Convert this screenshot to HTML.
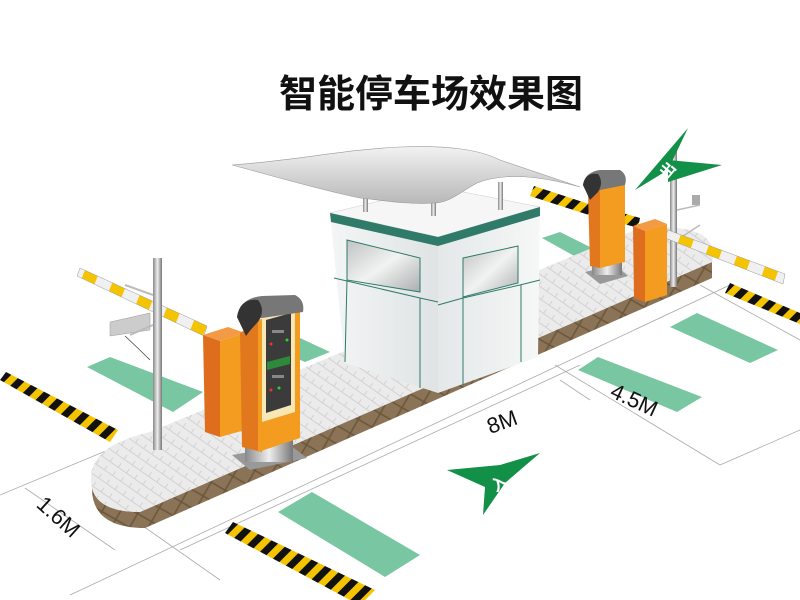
<!DOCTYPE html>
<html><head><meta charset="utf-8"><style>
html,body{margin:0;padding:0;background:#fff;}
svg{display:block;}
</style></head><body>
<svg width="800" height="600" viewBox="0 0 800 600" xmlns="http://www.w3.org/2000/svg">
<defs>
<pattern id="hz" width="14" height="14" patternUnits="userSpaceOnUse" patternTransform="rotate(45)">
<rect width="14" height="14" fill="#f5c400"/><rect width="7" height="14" fill="#111"/>
</pattern>
<pattern id="br" width="16" height="16" patternUnits="userSpaceOnUse" patternTransform="rotate(30)">
<rect width="16" height="16" fill="#8a7356"/><path d="M0 8H16M8 0V16" stroke="#6b563c" stroke-width="1.5"/>
</pattern>
<pattern id="pv" width="10" height="10" patternUnits="userSpaceOnUse" patternTransform="rotate(35)">
<rect width="10" height="10" fill="#ebebeb"/><path d="M0 5H10M5 0V5" stroke="#d2d2d2" stroke-width="1"/>
</pattern>
<linearGradient id="wall1" x1="0" x2="1"><stop offset="0" stop-color="#f4f6f6"/><stop offset="1" stop-color="#dfe3e3"/></linearGradient>
<linearGradient id="wall2" x1="0" x2="1"><stop offset="0" stop-color="#e4e8e8"/><stop offset="1" stop-color="#f6f7f7"/></linearGradient>
<linearGradient id="win" x1="0" y1="0" x2="1" y2="1"><stop offset="0" stop-color="#bfc3c3"/><stop offset=".5" stop-color="#f2f2f2"/><stop offset="1" stop-color="#a9aeae"/></linearGradient>
<linearGradient id="can" x1="0" y1="0" x2="0" y2="1"><stop offset="0" stop-color="#f2f2f2"/><stop offset="1" stop-color="#b8b8b8"/></linearGradient>
<linearGradient id="met" x1="0" x2="1"><stop offset="0" stop-color="#888"/><stop offset=".5" stop-color="#eee"/><stop offset="1" stop-color="#777"/></linearGradient>
<pattern id="boom" width="30" height="10" patternUnits="userSpaceOnUse" patternTransform="rotate(22)">
<rect width="30" height="10" fill="#f0f0f0"/><rect width="14" height="10" fill="#f5c400"/>
</pattern>
<pattern id="boom2" width="30" height="10" patternUnits="userSpaceOnUse" patternTransform="rotate(20)">
<rect width="30" height="10" fill="#f0f0f0"/><rect width="14" height="10" fill="#f5c400"/>
</pattern>
</defs>

<text x="431" y="107" text-anchor="middle" font-family="'Liberation Sans','Noto Sans CJK SC',sans-serif" font-weight="bold" font-size="38" fill="#111">智能停车场效果图</text>

<!-- dimension / road lines -->
<g stroke="#aaa" stroke-width="0.8" fill="none">
<line x1="0" y1="495" x2="120" y2="445"/>
<line x1="70" y1="595" x2="730" y2="285"/>
<line x1="180" y1="550" x2="580" y2="365"/>
<line x1="25" y1="488" x2="115" y2="550"/>
<line x1="120" y1="510" x2="220" y2="580"/>
<line x1="555" y1="365" x2="720" y2="465"/>
<line x1="720" y1="465" x2="800" y2="430"/>
<line x1="560" y1="380" x2="590" y2="400"/>
<line x1="700" y1="285" x2="800" y2="340"/>
</g>

<!-- green stripes -->
<g fill="#79c7a2">
<polygon points="87,367 110,357 203,392 173,412"/>
<polygon points="272,348 300,338 330,352 305,362"/>
<polygon points="542,238 560,232 600,252 585,262"/>
<polygon points="670,327 697,313 778,350 750,363"/>
<polygon points="578,370 598,357 702,397 677,412"/>
<polygon points="278,512 312,492 420,555 385,577"/>
</g>

<!-- hazard strips -->
<polygon points="0,380 6,372 118,430 110,442" fill="url(#hz)"/>
<polygon points="225,533 233,522 375,590 365,600 350,600" fill="url(#hz)"/>
<polygon points="530,196 534,186 595,206 592,216" fill="url(#hz)"/>
<polygon points="725,293 730,283 800,313 800,324" fill="url(#hz)"/>

<!-- island -->
<path d="M92 470 Q86 512 140 512 L712 262 L712 278 L145 528 Q90 528 92 485 Z" fill="url(#br)"/>
<path d="M150 432 L640 228 Q722 222 712 262 L140 512 Q84 512 92 470 Q98 444 150 432 Z" fill="url(#pv)"/>

<polygon points="588,203 640,218 638,228 586,213" fill="url(#hz)"/>

<!-- booth -->
<polygon points="330,213 438,187 540,207 438,237" fill="#f6f6f6" stroke="#ccc" stroke-width="0.5"/>
<polygon points="330,213 438,237 438,393 345,363" fill="url(#wall1)"/>
<polygon points="438,237 540,207 538,357 438,393" fill="url(#wall2)"/>
<polygon points="330,213 438,237 438,246 331,222" fill="#2f7a68"/>
<polygon points="438,237 540,207 540,216 438,246" fill="#2f7a68"/>
<polygon points="347,240 420,258 420,292 347,280" fill="url(#win)" stroke="#2f7a68" stroke-width="1"/>
<polygon points="463,258 518,246 518,283 463,297" fill="url(#win)" stroke="#2f7a68" stroke-width="1"/>
<g stroke="#2f7a68" stroke-width="1" fill="none">
<polyline points="334,278 420,298 438,302"/>
<line x1="347" y1="280" x2="345" y2="362"/>
<line x1="420" y1="298" x2="420" y2="388"/>
<polyline points="438,305 463,298 520,285 540,280"/>
<line x1="463" y1="298" x2="463" y2="385"/>
<line x1="521" y1="285" x2="521" y2="362"/>
<line x1="347" y1="240" x2="347" y2="280"/>
</g>
<g fill="url(#met)">
<rect x="363" y="198" width="5" height="14"/>
<rect x="431" y="198" width="5" height="18"/>
<rect x="498" y="182" width="5" height="28"/>
</g>
<path d="M232 165 C300 160 340 150 400 147 C450 145 480 150 500 160 C530 170 560 180 580 187 C540 176 505 172 477 183 C460 192 450 203 433 203 C410 205 380 200 360 198 C320 190 270 175 232 165 Z" fill="url(#can)" stroke="#999" stroke-width="0.6"/>

<!-- left boom & pole -->
<polygon points="77,276 80,268 207,326 204,336" fill="url(#boom)" stroke="#999" stroke-width="0.5"/>
<rect x="153" y="258" width="9" height="192" fill="url(#met)"/>
<path d="M110 322 L150 313 L150 330 L110 336 Z" fill="#ccc" stroke="#999" stroke-width="0.5"/>
<path d="M125 285 L153 295 M130 335 L153 325" stroke="#bbb" stroke-width="2"/>
<path d="M125 336 Q140 350 150 360" stroke="#444" stroke-width="0.8" fill="none"/>

<!-- left barrier box -->
<polygon points="203,335 228,327 245,333 220,341" fill="#f29a45"/>
<polygon points="203,335 220,341 220,437 205,432" fill="#de6e1e"/>
<polygon points="220,341 245,333 245,430 220,437" fill="#f39c1f"/>

<!-- left ticket machine -->
<polygon points="232,455 290,445 307,458 250,470" fill="#999"/>
<rect x="245" y="440" width="48" height="22" fill="url(#met)"/>
<polygon points="240,333 262,320 262,452 242,447" fill="#e2781d"/>
<polygon points="258,320 300,308 300,438 258,452" fill="#f39c1f"/>
<polygon points="262,318 295,308 295,412 262,422" fill="#f7e7b5"/>
<polygon points="266,320 291,313 291,405 266,413" fill="#3b3b3b"/>
<g fill="#888"><rect x="272" y="330" width="12" height="3"/><rect x="272" y="375" width="12" height="3"/></g>
<circle cx="271" cy="344" r="1.5" fill="#e33"/><circle cx="287" cy="340" r="1.5" fill="#3c3"/>
<circle cx="271" cy="390" r="1.5" fill="#e33"/><circle cx="279" cy="388" r="1.5" fill="#3c3"/>
<polygon points="267,362 290,356 290,364 267,370" fill="#2c8a3a"/>
<path d="M237 317 Q240 298 262 296 L295 295 Q305 300 303 312 L262 318 Q252 318 246 335 Z" fill="#777"/>
<path d="M237 317 Q240 298 258 300 Q266 310 258 322 Q250 330 246 336 Z" fill="#333"/>

<!-- right machine -->
<polygon points="585,272 615,265 628,276 600,284" fill="#999"/>
<rect x="592" y="255" width="30" height="20" fill="url(#met)"/>
<polygon points="588,192 600,188 600,268 590,266" fill="#e2781d"/>
<polygon points="600,188 625,182 625,262 600,268" fill="#f39c1f"/>
<path d="M583 185 Q585 172 600 170 L620 170 Q628 175 625 185 L600 190 Q594 192 590 200 Z" fill="#777"/>
<path d="M583 185 Q585 172 598 174 Q604 182 598 192 L590 200 Z" fill="#333"/>

<!-- right pole & flag -->
<rect x="670" y="150" width="7" height="137" fill="url(#met)"/>
<polygon points="635,190 688,128 668,170" fill="#129048"/>
<polygon points="668,160 722,165 668,182" fill="#129048"/>
<text x="660" y="176" font-family="'Liberation Sans','Noto Sans CJK SC',sans-serif" font-size="15" font-weight="bold" fill="#fff" transform="rotate(-50 667 170)">出</text>
<rect x="692" y="195" width="8" height="10" fill="#aaa"/>
<path d="M677 210 L700 205 M677 240 L700 225" stroke="#bbb" stroke-width="1.5"/>

<!-- right barrier box + boom -->
<polygon points="665,238 668,230 785,274 783,284" fill="url(#boom2)" stroke="#999" stroke-width="0.5"/>
<polygon points="633,226 655,219 667,224 645,231" fill="#f29a45"/>
<polygon points="633,226 645,231 645,302 634,298" fill="#de6e1e"/>
<polygon points="645,231 667,224 667,295 645,302" fill="#f39c1f"/>

<!-- entry arrow -->
<polygon points="447,470 500,465 540,453 505,483 483,515 485,487" fill="#129048"/>
<text x="492" y="490" font-family="'Liberation Sans','Noto Sans CJK SC',sans-serif" font-size="16" font-weight="bold" fill="#fff" transform="rotate(-35 498 485)">入</text>

<!-- labels -->
<g font-family="'Liberation Sans',sans-serif" font-size="22" fill="#111">
<text x="486" y="430" transform="rotate(-20 500 420)">8M</text>
<text x="603" y="407" transform="rotate(25 630 415)">4.5M</text>
<text x="23" y="522" transform="rotate(42 50 530)">1.6M</text>
</g>
</svg>
</body></html>
